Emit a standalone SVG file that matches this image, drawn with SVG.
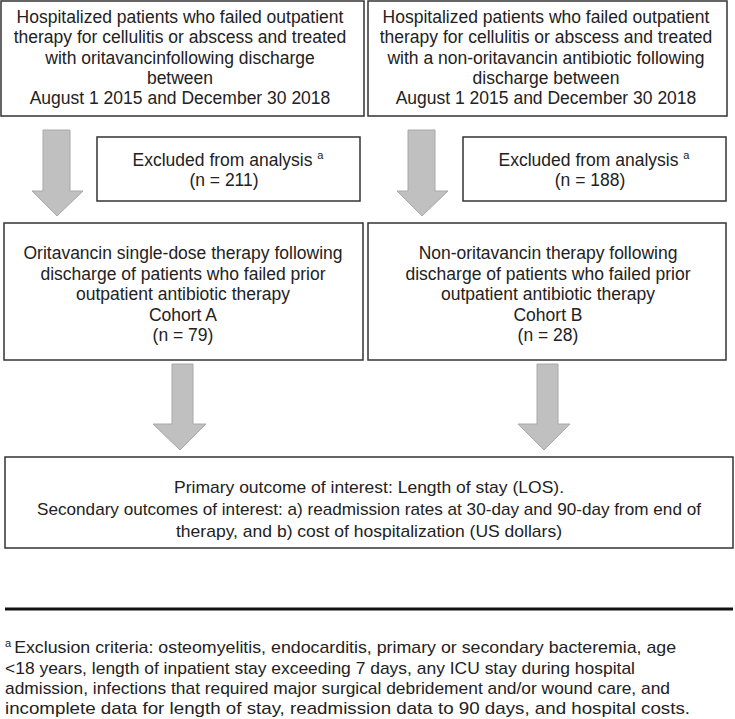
<svg xmlns="http://www.w3.org/2000/svg" width="735" height="719" viewBox="0 0 735 719">
<style>
.box{fill:#fff;stroke:#333;stroke-width:1.5}
.t{font-family:"Liberation Sans",Arial,sans-serif;font-size:17.5px;fill:#222;text-anchor:middle}
.bt{font-family:"Liberation Sans",Arial,sans-serif;font-size:17px;fill:#222;text-anchor:middle}
.ft{font-family:"Liberation Sans",Arial,sans-serif;font-size:17px;fill:#222}
.sup{font-size:11px}
.arr{fill:#c0c0c0;stroke:#a8a8a8;stroke-width:1}
</style>
<rect width="735" height="719" fill="#fff"/>
<g id="connectors">
<polygon class="arr" points="43,130 70,130 70,191 83,191 57,216 32,191 43,191"/>
<polygon class="arr" points="408,130 435,130 435,191 448,191 422,216 397,191 408,191"/>
<polygon class="arr" points="172,364 193,364 193,424 206,424 180,450 153,424 172,424"/>
<polygon class="arr" points="537,364 558,364 558,424 570,424 544,450 518,424 537,424"/>
</g>
<g id="n1">
<rect class="box" x="1" y="1" width="363" height="115"/>
<text class="t" x="180" y="23">Hospitalized patients who failed outpatient</text>
<text class="t" x="180" y="43.3">therapy for cellulitis or abscess and treated</text>
<text class="t" x="180" y="63.6">with oritavancinfollowing discharge</text>
<text class="t" x="180" y="84">between</text>
<text class="t" x="180" y="104.3">August 1 2015 and December 30 2018</text>
</g>
<g id="n2">
<rect class="box" x="368" y="1" width="359" height="115"/>
<text class="t" x="546" y="23">Hospitalized patients who failed outpatient</text>
<text class="t" x="546" y="43.3">therapy for cellulitis or abscess and treated</text>
<text class="t" x="546" y="63.6">with a non-oritavancin antibiotic following</text>
<text class="t" x="546" y="84">discharge between</text>
<text class="t" x="546" y="104.3">August 1 2015 and December 30 2018</text>
</g>
<g id="n3">
<rect class="box" x="97" y="137" width="263" height="64"/>
<text class="t" x="228" y="166">Excluded from analysis <tspan class="sup" dy="-7">a</tspan></text>
<text class="t" x="224" y="186">(n = 211)</text>
</g>
<g id="n4">
<rect class="box" x="463" y="137" width="263" height="64"/>
<text class="t" x="594" y="166">Excluded from analysis <tspan class="sup" dy="-7">a</tspan></text>
<text class="t" x="590" y="186">(n = 188)</text>
</g>
<g id="n5">
<rect class="box" x="4" y="223" width="359" height="137"/>
<text class="t" x="183" y="259">Oritavancin single-dose therapy following</text>
<text class="t" x="183" y="279.5">discharge of patients who failed prior</text>
<text class="t" x="183" y="300">outpatient antibiotic therapy</text>
<text class="t" x="183" y="320.5">Cohort A</text>
<text class="t" x="183" y="341">(n = 79)</text>
</g>
<g id="n6">
<rect class="box" x="368" y="223" width="358" height="137"/>
<text class="t" x="548" y="259">Non-oritavancin therapy following</text>
<text class="t" x="548" y="279.5">discharge of patients who failed prior</text>
<text class="t" x="548" y="300">outpatient antibiotic therapy</text>
<text class="t" x="548" y="320.5">Cohort B</text>
<text class="t" x="548" y="341">(n = 28)</text>
</g>
<g id="n7">
<rect class="box" x="5" y="457" width="728" height="91"/>
<text class="bt" x="369" y="493" textLength="390" lengthAdjust="spacingAndGlyphs">Primary outcome of interest: Length of stay (LOS).</text>
<text class="bt" x="369" y="515" textLength="664" lengthAdjust="spacingAndGlyphs">Secondary outcomes of interest: a) readmission rates at 30-day and 90-day from end of</text>
<text class="bt" x="369" y="537" textLength="386" lengthAdjust="spacingAndGlyphs">therapy, and b) cost of hospitalization (US dollars)</text>
</g>
<g id="footnote">
<line x1="5" y1="609" x2="733" y2="609" stroke="#111" stroke-width="3"/>
<text class="ft" x="5" y="653"><tspan class="sup" dy="-6">a</tspan><tspan dy="6" dx="3" textLength="662" lengthAdjust="spacingAndGlyphs">Exclusion criteria: osteomyelitis, endocarditis, primary or secondary bacteremia, age</tspan></text>
<text class="ft" x="5" y="674" textLength="630" lengthAdjust="spacingAndGlyphs">&lt;18 years, length of inpatient stay exceeding 7 days, any ICU stay during hospital</text>
<text class="ft" x="5" y="694" textLength="665" lengthAdjust="spacingAndGlyphs">admission, infections that required major surgical debridement and/or wound care, and</text>
<text class="ft" x="5" y="714" textLength="685" lengthAdjust="spacingAndGlyphs">incomplete data for length of stay, readmission data to 90 days, and hospital costs.</text>
</g>
</svg>
